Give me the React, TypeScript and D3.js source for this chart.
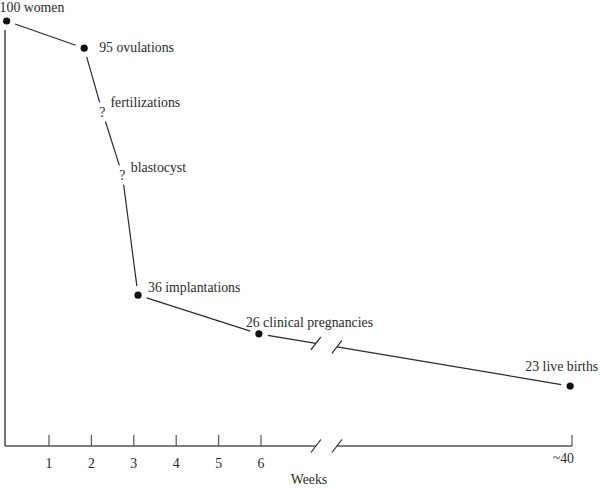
import * as d3 from "d3";

// stages along the path from women to live births
const stages = [
  "100 women",
  "95 ovulations",
  "fertilizations",
  "blastocyst",
  "36 implantations",
  "26 clinical pregnancies",
  "23 live births",
];
const known = [true, true, false, false, true, true, true];
const weeks = [0, 1.83, 2.26, 2.73, 3.1, 5.95, 39.8];
const levels = [100, 93.6, 78.6, 63.8, 35.5, 26.4, 14.1];

const tickWeeks = [1, 2, 3, 4, 5, 6, 40];
const tickLabels = ["1", "2", "3", "4", "5", "6", "~40"];
const breakWeeks = [12, 14.3];

// label placement relative to its point: dx, dy, anchor
const labelPos: [number, number, string][] = [
  [-7, -9, "start"],
  [15, 4, "start"],
  [8, -4.5, "start"],
  [8.5, -3, "start"],
  [10, -3, "start"],
  [-13, -7, "start"],
  [28, -15, "end"],
];

const W = 600;
const H = 489;
const font = "'Liberation Serif', 'Times New Roman', serif";
const ink = "#2a2a2a";
const axisInk = "#555";

export default function App() {
  const x = d3.scaleLinear().domain([0, 6, 40]).range([6.6, 261, 572]);
  const y = d3.scaleLinear().domain([0, 100]).range([446, 21]);
  const axisY = y(0);
  const axisX = 5;

  const pts = weeks.map((w, i) => ({ x: x(w), y: y(levels[i]) }));

  const trim = (a, b, ta, tb) => {
    const dx = b.x - a.x;
    const dy = b.y - a.y;
    const len = Math.hypot(dx, dy);
    return [
      [a.x + (dx * ta) / len, a.y + (dy * ta) / len],
      [b.x - (dx * tb) / len, b.y - (dy * tb) / len],
    ];
  };

  const segs: number[][][] = [];
  const slashes: [number, number][] = [];
  const gap = (i) => (known[i] ? 9 : 10);
  for (let i = 0; i < pts.length - 1; i++) {
    const a = pts[i];
    const b = pts[i + 1];
    if (weeks[i + 1] > breakWeeks[1]) {
      const interp = (px) => a.y + ((b.y - a.y) * (px - a.x)) / (b.x - a.x);
      const b1 = x(breakWeeks[0]);
      const b2 = x(breakWeeks[1]);
      const p1 = { x: b1, y: interp(b1) };
      const p2 = { x: b2, y: interp(b2) };
      segs.push(trim(a, p1, gap(i), 0));
      segs.push(trim(p2, b, 0, gap(i + 1)));
      slashes.push([p1.x, p1.y], [p2.x, p2.y]);
    } else {
      segs.push(trim(a, b, gap(i), gap(i + 1)));
    }
  }
  breakWeeks.forEach((w) => slashes.push([x(w), axisY]));

  const line = d3.line();

  return (
    <svg
      width={W}
      height={H}
      style={{ position: "absolute", left: 0, top: 0, background: "#fff" }}
      fontFamily={font}
      fontSize={13.8}
    >
      {/* axes */}
      <line x1={axisX} x2={axisX} y1={30} y2={axisY} stroke={ink} strokeWidth={1.3} />
      <line x1={axisX} x2={x(breakWeeks[0])} y1={axisY} y2={axisY} stroke={axisInk} strokeWidth={1.3} />
      <line x1={x(breakWeeks[1])} x2={x(40)} y1={axisY} y2={axisY} stroke={axisInk} strokeWidth={1.3} />
      {tickWeeks.map((w, i) => (
        <g key={w}>
          <line x1={x(w)} x2={x(w)} y1={axisY - 11} y2={axisY} stroke={axisInk} strokeWidth={1.2} />
          <text
            x={i === tickWeeks.length - 1 ? x(w) + 2 : x(w)}
            y={i === tickWeeks.length - 1 ? 463 : 468}
            textAnchor={i === tickWeeks.length - 1 ? "end" : "middle"}
            fill={ink}
          >
            {tickLabels[i]}
          </text>
        </g>
      ))}
      <text x={309} y={484} textAnchor="middle" fill={ink}>
        Weeks
      </text>

      {/* path */}
      {segs.map((s, i) => (
        <path key={i} d={line(s as [number, number][])} stroke={ink} strokeWidth={1.2} fill="none" />
      ))}
      {slashes.map(([sx, sy], i) => (
        <line key={i} x1={sx - 5} y1={sy + 6.5} x2={sx + 5} y2={sy - 6.5} stroke={ink} strokeWidth={1.2} />
      ))}

      {pts.map((p, i) =>
        known[i] ? (
          <circle key={i} cx={p.x} cy={p.y} r={3.6} fill="#111" />
        ) : (
          <text key={i} x={p.x} y={p.y + 5.5} textAnchor="middle" fill={ink}>
            ?
          </text>
        )
      )}
      {pts.map((p, i) => (
        <text
          key={"l" + i}
          x={p.x + labelPos[i][0]}
          y={p.y + labelPos[i][1]}
          textAnchor={labelPos[i][2]}
          fill={ink}
        >
          {stages[i]}
        </text>
      ))}
    </svg>
  );
}
